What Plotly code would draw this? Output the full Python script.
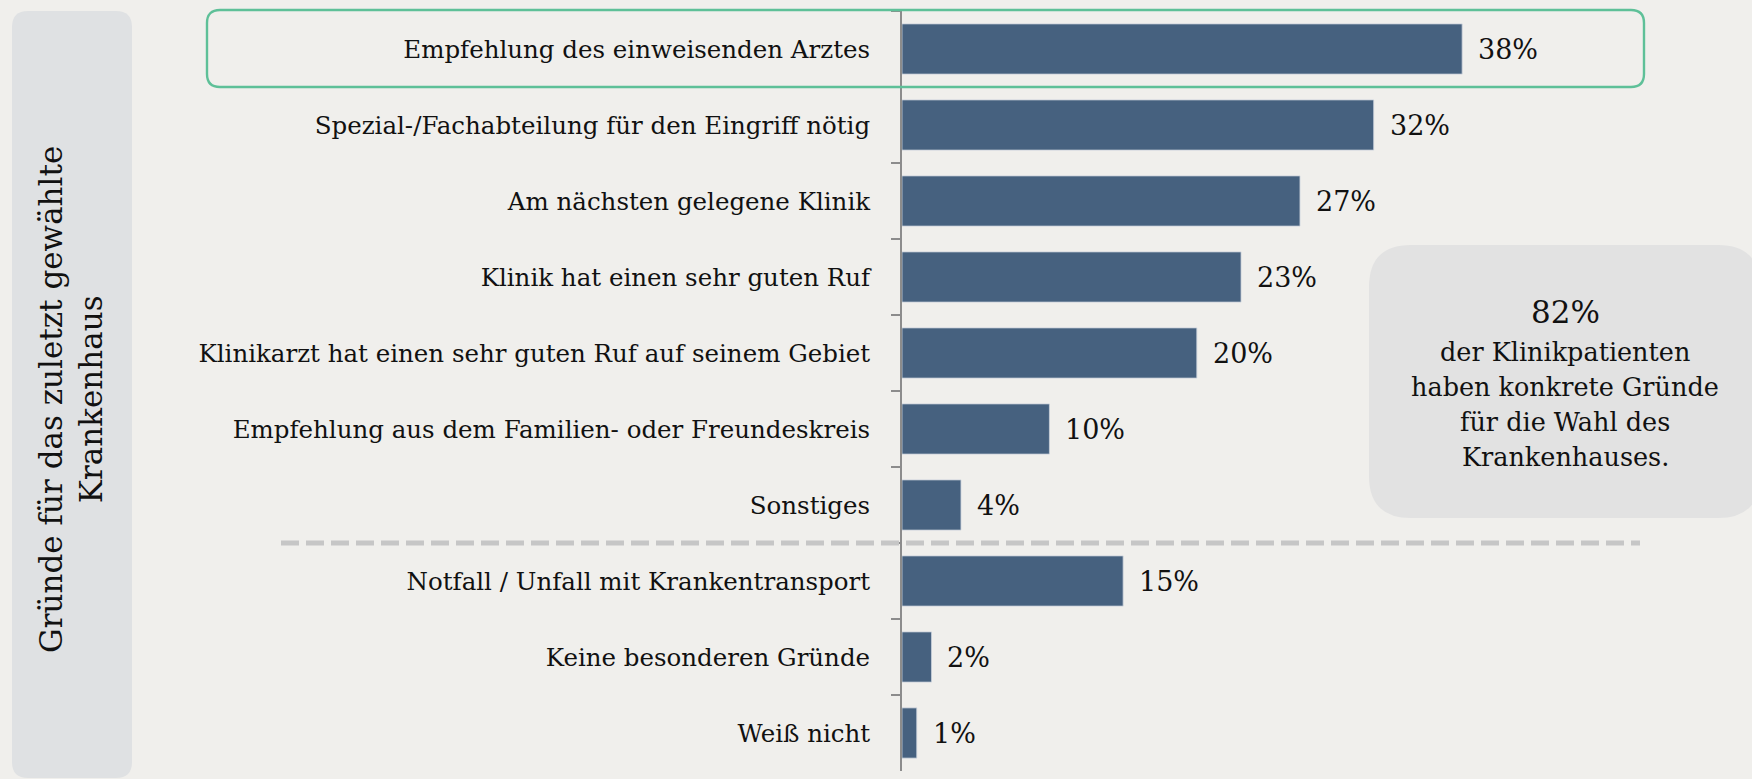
import plotly.graph_objects as go

categories = [
    "Empfehlung des einweisenden Arztes",
    "Spezial-/Fachabteilung für den Eingriff nötig",
    "Am nächsten gelegene Klinik",
    "Klinik hat einen sehr guten Ruf",
    "Klinikarzt hat einen sehr guten Ruf auf seinem Gebiet",
    "Empfehlung aus dem Familien- oder Freundeskreis",
    "Sonstiges",
    "Notfall / Unfall mit Krankentransport",
    "Keine besonderen Gründe",
    "Weiß nicht",
]
values = [38, 32, 27, 23, 20, 10, 4, 15, 2, 1]
side_title = "Gründe für das zuletzt gewählte<br>Krankenhaus"
callout_value = "82%"
callout_lines = ["der Klinikpatienten", "haben konkrete Gründe", "für die Wahl des", "Krankenhauses."]

W, H = 1752, 779
T, B = 11, 8
PH = H - T - B
FONT = "DejaVu Serif"
BG = "#f0efec"
BAR = "#46617f"
AXIS = "#8c8c8c"


def px(x):
    return x / W


def py(y):
    return (H - B - y) / PH


def rounded_rect(x0, y0, x1, y1, r):
    pts = [
        f"M {px(x0 + r)},{py(y0)}",
        f"L {px(x1 - r)},{py(y0)}",
        f"Q {px(x1)},{py(y0)} {px(x1)},{py(y0 + r)}",
        f"L {px(x1)},{py(y1 - r)}",
        f"Q {px(x1)},{py(y1)} {px(x1 - r)},{py(y1)}",
        f"L {px(x0 + r)},{py(y1)}",
        f"Q {px(x0)},{py(y1)} {px(x0)},{py(y1 - r)}",
        f"L {px(x0)},{py(y0 + r)}",
        f"Q {px(x0)},{py(y0)} {px(x0 + r)},{py(y0)}",
        "Z",
    ]
    return " ".join(pts)


x0_px = 902
scale = 14.74
xmax = (W - x0_px) / scale

fig = go.Figure()
fig.add_trace(go.Bar(
    x=values, y=categories, orientation="h",
    marker=dict(color=BAR, line=dict(color="#c9d1da", width=0.8)),
    width=0.66, hoverinfo="skip",
))

shapes = [
    dict(type="path", xref="paper", yref="paper", path=rounded_rect(12, 11, 132, 778, 16),
         fillcolor="#dfe1e3", line=dict(width=0), layer="below"),
    dict(type="path", xref="paper", yref="paper", path=rounded_rect(1369, 245, 1760, 518, 42),
         fillcolor="#e2e2e2", line=dict(width=0), layer="below"),
    dict(type="path", xref="paper", yref="paper", path=rounded_rect(207, 10, 1644, 87, 13),
         fillcolor="rgba(0,0,0,0)", line=dict(color="#5ec098", width=2.4), layer="above"),
    dict(type="line", xref="paper", yref="y", x0=px(281), x1=px(1640), y0=6.5, y1=6.5,
         line=dict(color="#c6c6c6", width=5, dash="18px,7px"), layer="above"),
]

annotations = []
for c, v in zip(categories, values):
    annotations.append(dict(x=v, y=c, xref="x", yref="y", text=f"{v}%", showarrow=False,
                            xanchor="left", yanchor="middle", xshift=14,
                            font=dict(family=FONT, size=27, color="#111")))

annotations.append(dict(x=px(71), y=py(400), xref="paper", yref="paper", text=side_title,
                        showarrow=False, textangle=-90, xanchor="center", yanchor="middle",
                        font=dict(family=FONT, size=31, color="#111")))
annotations.append(dict(x=px(1565), y=py(312), xref="paper", yref="paper", text=callout_value,
                        showarrow=False, xanchor="center", yanchor="middle",
                        font=dict(family=FONT, size=31, color="#111")))
for i, line in enumerate(callout_lines):
    annotations.append(dict(x=px(1565), y=py(352 + 35 * i), xref="paper", yref="paper", text=line,
                            showarrow=False, xanchor="center", yanchor="middle",
                            font=dict(family=FONT, size=25.5, color="#111")))

fig.update_layout(
    width=W, height=H,
    margin=dict(l=0, r=0, t=T, b=B, pad=0),
    paper_bgcolor=BG, plot_bgcolor="rgba(0,0,0,0)",
    showlegend=False,
    shapes=shapes, annotations=annotations,
    xaxis=dict(domain=[px(x0_px), 1], range=[0, xmax], visible=False, fixedrange=True),
    yaxis=dict(
        type="category", categoryorder="array", categoryarray=categories,
        range=[9.5, -0.5], showline=True, linecolor=AXIS, linewidth=2,
        ticks="outside", tickson="boundaries", ticklen=9, tickcolor=AXIS, tickwidth=2,
        showgrid=False, zeroline=False, automargin=False, ticklabelstandoff=25,
        tickfont=dict(family=FONT, size=24.5, color="#111"), fixedrange=True,
    ),
    font=dict(family=FONT),
)

fig.write_html("out.html", config={"displayModeBar": False},
               post_script="document.body.style.margin='0';document.body.style.background='#f0efec';")
